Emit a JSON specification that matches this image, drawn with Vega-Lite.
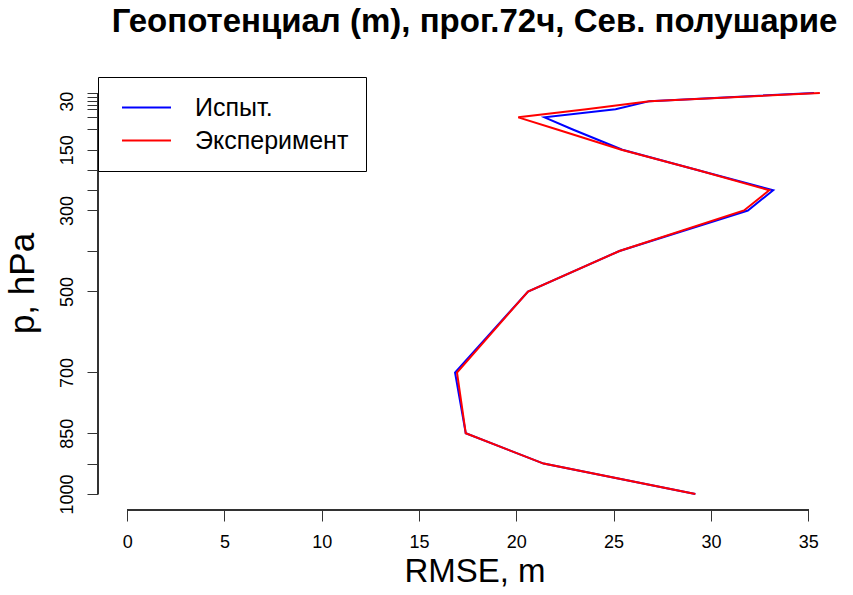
{
  "$schema": "https://vega.github.io/schema/vega-lite/v6.json",
  "width": 753,
  "height": 433,
  "autosize": {"type": "none"},
  "padding": {"left": 98, "top": 77, "right": 2, "bottom": 85},
  "background": "white",
  "title": {
    "text": "Геопотенциал (m), прог.72ч, Сев. полушарие",
    "font": "Liberation Sans",
    "fontWeight": "bold",
    "fontSize": 33,
    "color": "black",
    "anchor": "middle",
    "baseline": "alphabetic",
    "offset": 44,
    "dy": 32
  },
  "config": {
    "view": {"stroke": null},
    "axis": {"grid": false}
  },
  "data": {
    "values": [
      {"p": 10, "rmse": 35.3, "series": "Испыт."},
      {"p": 30, "rmse": 26.85, "series": "Испыт."},
      {"p": 50, "rmse": 25.1, "series": "Испыт."},
      {"p": 70, "rmse": 21.45, "series": "Испыт."},
      {"p": 100, "rmse": 22.9, "series": "Испыт."},
      {"p": 150, "rmse": 25.45, "series": "Испыт."},
      {"p": 200, "rmse": 29.3, "series": "Испыт."},
      {"p": 250, "rmse": 33.2, "series": "Испыт."},
      {"p": 300, "rmse": 31.9, "series": "Испыт."},
      {"p": 400, "rmse": 25.3, "series": "Испыт."},
      {"p": 500, "rmse": 20.6, "series": "Испыт."},
      {"p": 700, "rmse": 16.85, "series": "Испыт."},
      {"p": 850, "rmse": 17.4, "series": "Испыт."},
      {"p": 925, "rmse": 21.4, "series": "Испыт."},
      {"p": 1000, "rmse": 29.2, "series": "Испыт."},
      {"p": 10, "rmse": 35.6, "series": "Эксперимент"},
      {"p": 30, "rmse": 26.85, "series": "Эксперимент"},
      {"p": 50, "rmse": 23.6, "series": "Эксперимент"},
      {"p": 70, "rmse": 20.1, "series": "Эксперимент"},
      {"p": 100, "rmse": 22.1, "series": "Эксперимент"},
      {"p": 150, "rmse": 25.4, "series": "Эксперимент"},
      {"p": 200, "rmse": 29.3, "series": "Эксперимент"},
      {"p": 250, "rmse": 33.0, "series": "Эксперимент"},
      {"p": 300, "rmse": 31.7, "series": "Эксперимент"},
      {"p": 400, "rmse": 25.3, "series": "Эксперимент"},
      {"p": 500, "rmse": 20.6, "series": "Эксперимент"},
      {"p": 700, "rmse": 16.95, "series": "Эксперимент"},
      {"p": 850, "rmse": 17.4, "series": "Эксперимент"},
      {"p": 925, "rmse": 21.4, "series": "Эксперимент"},
      {"p": 1000, "rmse": 29.2, "series": "Эксперимент"}
    ]
  },
  "encoding": {
    "x": {
      "field": "rmse",
      "type": "quantitative",
      "scale": {"domain": [-1.5, 37.2], "nice": false, "zero": false},
      "axis": {
        "values": [0, 5, 10, 15, 20, 25, 30, 35],
        "domain": false,
        "tickSize": 11,
        "tickColor": "#333",
        "labelFont": "Liberation Sans",
        "labelFontSize": 18,
        "labelColor": "black",
        "labelPadding": 12,
        "labelOverlap": false,
        "title": "RMSE, m",
        "titleFont": "Liberation Sans",
        "titleFontSize": 33,
        "titleFontWeight": "normal",
        "titleColor": "black",
        "titlePadding": 4
      }
    },
    "y": {
      "field": "p",
      "type": "quantitative",
      "scale": {"domain": [-29.6, 1039.6], "reverse": true, "nice": false, "zero": false},
      "axis": {
        "values": [10, 20, 30, 40, 50, 70, 100, 150, 200, 250, 300, 400, 500, 700, 850, 925, 1000],
        "format": "d",
        "labelExpr": "indexof([30,150,300,500,700,850,1000], datum.value) >= 0 ? datum.label : ''",
        "domain": false,
        "tickSize": 11,
        "tickColor": "#333",
        "labelFont": "Liberation Sans",
        "labelFontSize": 18,
        "labelColor": "black",
        "labelAngle": 270,
        "labelAlign": "center",
        "labelBaseline": "alphabetic",
        "labelPadding": 15,
        "labelOverlap": false,
        "title": "p, hPa",
        "titleFont": "Liberation Sans",
        "titleFontSize": 35,
        "titleFontWeight": "normal",
        "titleColor": "black",
        "titlePadding": 18,
        "titleY": 206
      }
    }
  },
  "layer": [
    {
      "mark": {"type": "rule", "color": "#333", "strokeWidth": 1},
      "encoding": {"x": {"datum": 0}, "x2": {"datum": 35}, "y": {"datum": 1039.6}}
    },
    {
      "mark": {"type": "rule", "color": "#333", "strokeWidth": 1},
      "encoding": {"y": {"datum": 10}, "y2": {"datum": 1000}, "x": {"datum": -1.5}}
    },
    {
      "mark": {"type": "line", "strokeWidth": 2},
      "encoding": {
        "order": {"field": "p", "type": "quantitative"},
        "color": {
          "field": "series",
          "type": "nominal",
          "scale": {"domain": ["Испыт.", "Эксперимент"], "range": ["#0000ff", "#ff0000"]},
          "legend": {
            "title": null,
            "orient": "top-left",
            "offset": 0,
            "strokeColor": "black",
            "fillColor": "white",
            "padding": 17,
            "symbolType": "M-2,0H2",
            "symbolSize": 600,
            "symbolStrokeWidth": 2,
            "symbolOffset": 18,
            "labelFont": "Liberation Sans",
            "labelFontSize": 25,
            "labelColor": "black",
            "labelOffset": 35,
            "rowPadding": 6
          }
        }
      }
    }
  ]
}
